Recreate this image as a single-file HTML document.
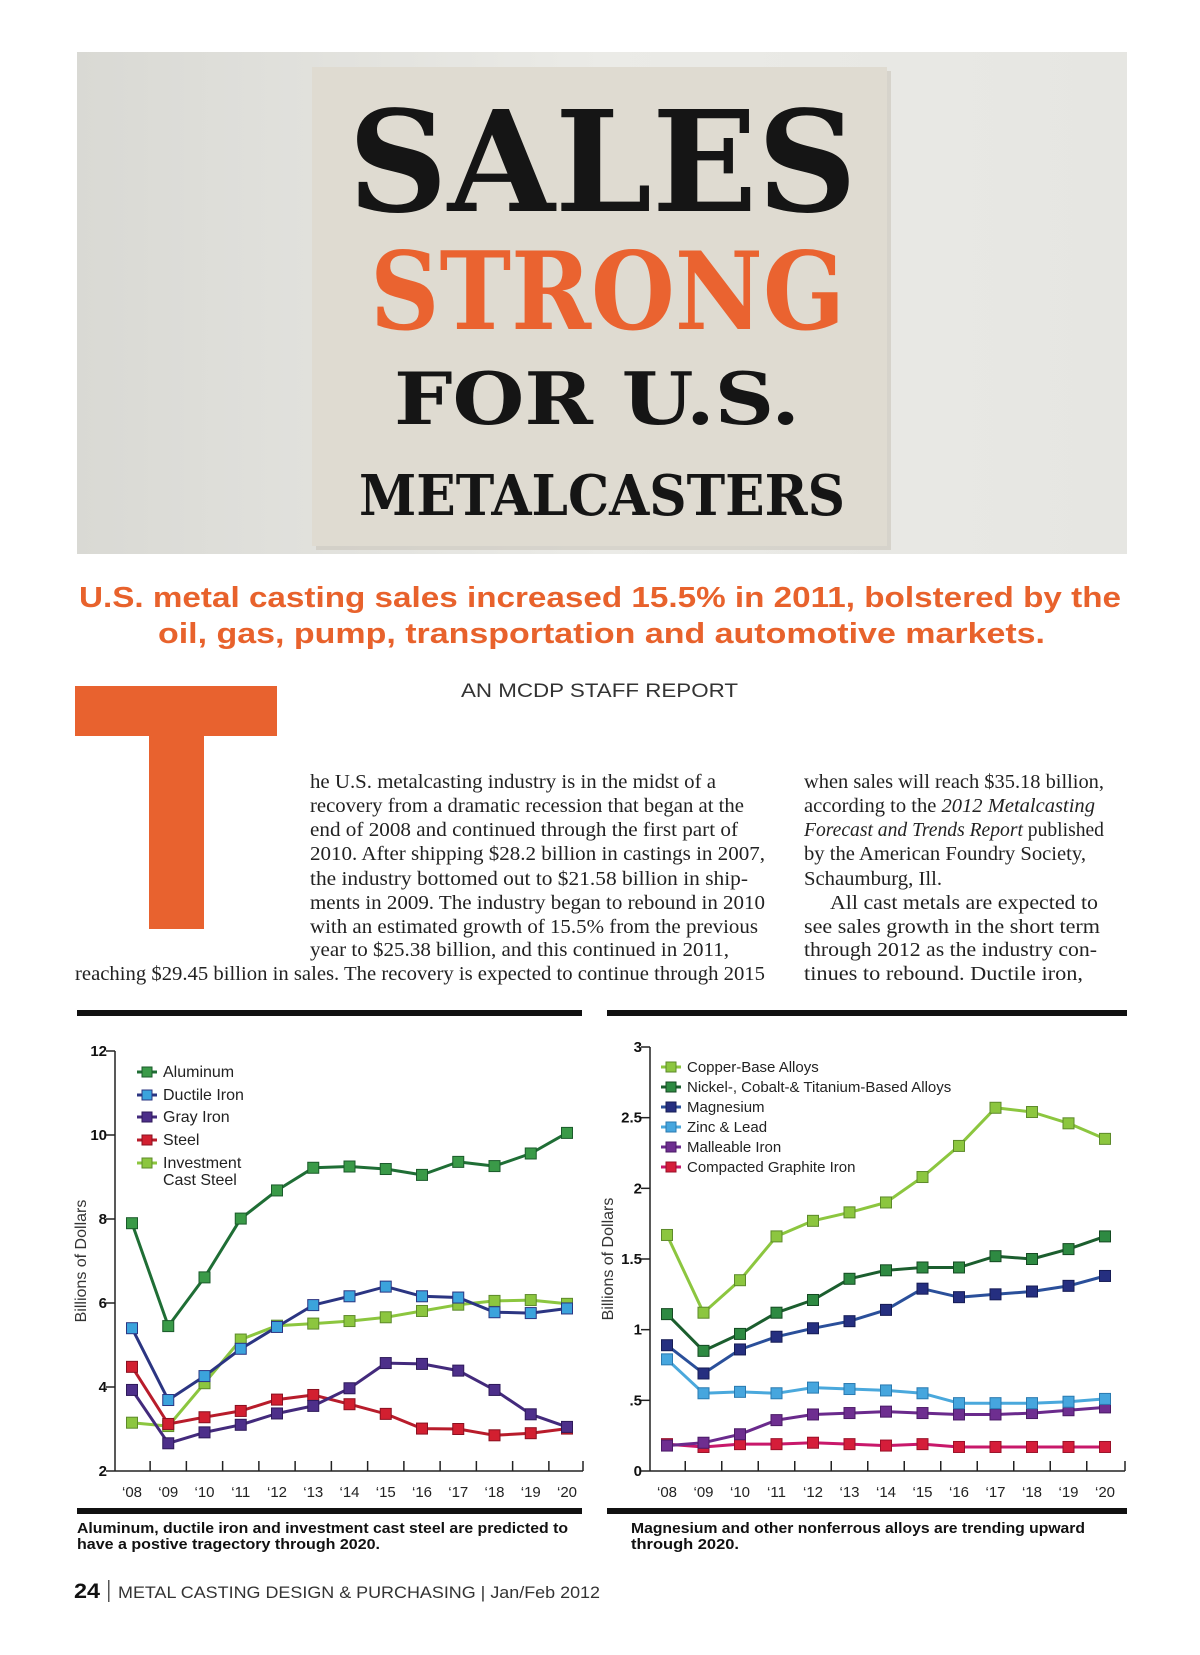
<!DOCTYPE html>
<html><head><meta charset="utf-8">
<style>
html,body{margin:0;padding:0;background:#fff;}
#page{position:relative;width:1200px;height:1655px;overflow:hidden;background:#fff;}
svg text{font-family:"Liberation Sans",sans-serif;}
svg .serif text{font-family:"Liberation Serif",serif;}
svg text.slab{font-family:"DejaVu Serif","Liberation Serif",serif;font-weight:bold;}
</style></head>
<body>
<div id="page">
<svg width="1200" height="1655" viewBox="0 0 1200 1655" xmlns="http://www.w3.org/2000/svg">
<defs>
<linearGradient id="wall" x1="0" y1="0" x2="1" y2="0">
<stop offset="0" stop-color="#d9d9d4"/><stop offset="0.5" stop-color="#ebebe7"/><stop offset="1" stop-color="#e6e6e2"/>
</linearGradient>
</defs>
<g>
<rect x="77" y="52" width="1050" height="502" fill="url(#wall)"/>
<rect x="316" y="71" width="575" height="479" fill="#c9c5bb" opacity="0.6"/>
<rect x="312" y="67" width="575" height="479" fill="#dfdbd1"/>
<text class="slab" x="348" y="211" font-size="140" textLength="509" lengthAdjust="spacingAndGlyphs" fill="#151515">SALES</text>
<text class="slab" x="370" y="329" font-size="108" textLength="475" lengthAdjust="spacingAndGlyphs" fill="#ea6330">STRONG</text>
<text class="slab" x="394" y="424" font-size="72" textLength="406" lengthAdjust="spacingAndGlyphs" fill="#151515">FOR U.S.</text>
<text class="slab" x="359" y="515" font-size="56" textLength="486" lengthAdjust="spacingAndGlyphs" fill="#151515">METALCASTERS</text>
</g>
<g fill="#e8622c" font-weight="bold" font-size="29">
<text x="79" y="607" textLength="1042" lengthAdjust="spacingAndGlyphs">U.S. metal casting sales increased 15.5% in 2011, bolstered by the</text>
<text x="158" y="643" textLength="887" lengthAdjust="spacingAndGlyphs">oil, gas, pump, transportation and automotive markets.</text>
</g>
<text x="461" y="697" font-size="19" textLength="277" lengthAdjust="spacingAndGlyphs" fill="#333">AN MCDP STAFF REPORT</text>
<g fill="#e8622f">
<rect x="75" y="686" width="202" height="50"/>
<rect x="149" y="735" width="55" height="194"/>
</g>
<g class="serif" font-size="20" fill="#222">
<text x="310" y="788" textLength="406" lengthAdjust="spacingAndGlyphs">he U.S. metalcasting industry is in the midst of a</text>
<text x="310" y="812" textLength="434" lengthAdjust="spacingAndGlyphs">recovery from a dramatic recession that began at the</text>
<text x="310" y="836" textLength="428" lengthAdjust="spacingAndGlyphs">end of 2008 and continued through the first part of</text>
<text x="310" y="860" textLength="455" lengthAdjust="spacingAndGlyphs">2010. After shipping $28.2 billion in castings in 2007,</text>
<text x="310" y="885" textLength="438" lengthAdjust="spacingAndGlyphs">the industry bottomed out to $21.58  billion in ship-</text>
<text x="310" y="909" textLength="455" lengthAdjust="spacingAndGlyphs">ments in 2009. The industry began to rebound in 2010</text>
<text x="310" y="933" textLength="448" lengthAdjust="spacingAndGlyphs">with an estimated growth of 15.5% from the previous</text>
<text x="310" y="956" textLength="419" lengthAdjust="spacingAndGlyphs">year to $25.38 billion, and this continued in 2011,</text>
<text x="75" y="980" textLength="690" lengthAdjust="spacingAndGlyphs">reaching $29.45 billion in sales. The recovery is expected to continue through 2015</text>
<text x="804" y="788" textLength="300" lengthAdjust="spacingAndGlyphs">when sales will reach $35.18 billion,</text>
<text x="804" y="812" textLength="291" lengthAdjust="spacingAndGlyphs">according to the <tspan font-style="italic">2012 Metalcasting</tspan></text>
<text x="804" y="836" textLength="300" lengthAdjust="spacingAndGlyphs"><tspan font-style="italic">Forecast and Trends Report</tspan> published</text>
<text x="804" y="860" textLength="282" lengthAdjust="spacingAndGlyphs">by the American Foundry Society,</text>
<text x="804" y="885" textLength="138" lengthAdjust="spacingAndGlyphs">Schaumburg, Ill.</text>
<text x="830" y="909" textLength="268" lengthAdjust="spacingAndGlyphs">All cast metals are expected to</text>
<text x="804" y="933" textLength="296" lengthAdjust="spacingAndGlyphs">see sales growth in the short term</text>
<text x="804" y="956" textLength="293" lengthAdjust="spacingAndGlyphs">through 2012 as the industry con-</text>
<text x="804" y="980" textLength="279" lengthAdjust="spacingAndGlyphs">tinues to rebound. Ductile iron,</text>
</g>
<rect x="77" y="1010" width="505" height="6" fill="#111"/>
<rect x="607" y="1010" width="520" height="6" fill="#111"/>
<rect x="77" y="1508" width="505" height="6" fill="#111"/>
<rect x="607" y="1508" width="520" height="6" fill="#111"/>
<g id="leftChart"></g>
<g id="rightChart"></g>
<g font-weight="bold" font-size="14.5" fill="#111">
<text x="77" y="1533" textLength="491" lengthAdjust="spacingAndGlyphs">Aluminum, ductile iron and investment cast steel are predicted to</text>
<text x="77" y="1549" textLength="303" lengthAdjust="spacingAndGlyphs">have a postive tragectory through 2020.</text>
<text x="631" y="1533" textLength="454" lengthAdjust="spacingAndGlyphs">Magnesium and other nonferrous alloys are trending upward</text>
<text x="631" y="1549" textLength="108" lengthAdjust="spacingAndGlyphs">through 2020.</text>
</g>
<g fill="#333">
<text x="74" y="1598" font-size="21" font-weight="bold" fill="#111" textLength="26" lengthAdjust="spacingAndGlyphs">24</text>
<rect x="108" y="1580" width="1.5" height="22" fill="#555"/>
<text x="118" y="1598" font-size="17" textLength="482" lengthAdjust="spacingAndGlyphs">METAL CASTING DESIGN &amp; PURCHASING | Jan/Feb 2012</text>
</g>
</svg>
</div>
<script>
const NS='http://www.w3.org/2000/svg';
const years=["‘08","‘09","‘10","‘11","‘12","‘13","‘14","‘15","‘16","‘17","‘18","‘19","‘20"];
const aluminum=[7.90,5.45,6.61,8.01,8.68,9.22,9.25,9.19,9.05,9.36,9.26,9.56,10.05];
const ductileIron=[5.40,3.69,4.26,4.91,5.43,5.95,6.16,6.39,6.16,6.13,5.78,5.76,5.87];
const grayIron=[3.93,2.66,2.92,3.10,3.37,3.55,3.97,4.57,4.55,4.39,3.93,3.35,3.05];
const steel=[4.48,3.12,3.28,3.43,3.70,3.81,3.59,3.36,3.01,3.00,2.85,2.90,3.01];
const investmentCastSteel=[3.15,3.07,4.09,5.13,5.46,5.51,5.57,5.66,5.81,5.96,6.05,6.07,5.98];
const leftTicks=[2,4,6,8,10,12];
const copperBase=[1.67,1.12,1.35,1.66,1.77,1.83,1.90,2.08,2.30,2.57,2.54,2.46,2.35];
const nickelCobaltTi=[1.11,0.85,0.97,1.12,1.21,1.36,1.42,1.44,1.44,1.52,1.50,1.57,1.66];
const magnesium=[0.89,0.69,0.86,0.95,1.01,1.06,1.14,1.29,1.23,1.25,1.27,1.31,1.38];
const zincLead=[0.79,0.55,0.56,0.55,0.59,0.58,0.57,0.55,0.48,0.48,0.48,0.49,0.51];
const malleableIron=[0.18,0.20,0.26,0.36,0.40,0.41,0.42,0.41,0.40,0.40,0.41,0.43,0.45];
const compactedGraphite=[0.19,0.17,0.19,0.19,0.20,0.19,0.18,0.19,0.17,0.17,0.17,0.17,0.17];
const rightTicks=[0,0.5,1,1.5,2,2.5,3];
const rightTickLabels=["0",".5","1","1.5","2","2.5","3"];

function mk(tag,attrs,parent){const e=document.createElementNS(NS,tag);for(const k in attrs)e.setAttribute(k,attrs[k]);parent.appendChild(e);return e;}

function drawChart(g,cfg){
  const xs=i=>cfg.x0+i*(cfg.x1-cfg.x0)/(years.length-1);
  const ys=v=>cfg.yBot-(v-cfg.vMin)*(cfg.yBot-cfg.yTop)/(cfg.vMax-cfg.vMin);
  let a=mk('line',{x1:cfg.axL,y1:ys(cfg.vMax),x2:cfg.axL,y2:cfg.yBot,stroke:'#222','stroke-width':1.5},g);
  
  
  a=mk('line',{x1:cfg.axL,y1:cfg.yBot,x2:cfg.axR,y2:cfg.yBot,stroke:'#222','stroke-width':1.5},g);
  
  
  cfg.ticks.forEach((t,k)=>{
    const y=ys(t);
    const tl=mk('line',{x1:cfg.axL-9,y1:y,x2:cfg.axL,y2:y,stroke:'#222','stroke-width':1.5},g);
    
    
    const tx=mk('text',{x:cfg.axL-8,y:y+5,'text-anchor':'end','font-size':15,'font-weight':'bold',fill:'#111'},g);
    tx.textContent=cfg.tickLabels[k];
    
    
  });
  for(let i=0;i<years.length;i++){
    const xm=i<years.length-1?(xs(i)+xs(i+1))/2:cfg.axR;
    const tk=mk('line',{x1:xm,y1:cfg.yBot,x2:xm,y2:cfg.yBot-10,stroke:'#222','stroke-width':1.5},g);
    
    
    const lb=mk('text',{x:xs(i),y:cfg.yBot+26,'text-anchor':'middle','font-size':15,fill:'#222'},g);
    lb.textContent=years[i];
    
    
  }
  const tt=mk('text',{x:0,y:0,'text-anchor':'middle','font-size':16,fill:'#333',transform:`translate(${cfg.titleX},${(ys(cfg.vMax)+cfg.yBot)/2}) rotate(-90)`},g);
  tt.textContent='Billions of Dollars';
  
  
  cfg.series.slice().reverse().forEach(s=>{
    const sg=mk('g',{},g);
    
    
    const pts=s.data.map((v,i)=>xs(i).toFixed(1)+','+ys(v).toFixed(1)).join(' ');
    const pl=mk('polyline',{points:pts,fill:'none',stroke:s.line,'stroke-width':3,'stroke-linejoin':'round'},sg);
    
    
    s.data.forEach((v,i)=>{
      const r=mk('rect',{x:xs(i)-5.5,y:ys(v)-5.5,width:11,height:11,fill:s.marker,stroke:s.edge,'stroke-width':1},sg);
      
      
    });
  });
  cfg.series.forEach((s,k)=>{
    const y=cfg.legY[k];
    const lg=mk('g',{},g);
    
    
    mk('line',{x1:cfg.legX,y1:y,x2:cfg.legX+20,y2:y,stroke:s.line,'stroke-width':3},lg);
    mk('rect',{x:cfg.legX+5,y:y-5,width:10,height:10,fill:s.marker,stroke:s.edge,'stroke-width':1},lg);
    s.label.forEach((ln,j)=>{
      const t=mk('text',{x:cfg.legX+26,y:y+5+j*17,'font-size':cfg.legFont,fill:'#222'},lg);
      t.textContent=ln;
    });
  });
}

drawChart(document.getElementById('leftChart'),{
  x0:132,x1:567,axL:115,axR:583,yTop:1051,yBot:1471,vMin:2,vMax:12,
  ticks:leftTicks,tickLabels:leftTicks.map(String),titleX:86,
  legX:137,legY:[1072,1095,1117,1140,1163],legFont:16,
  series:[
    {name:'aluminum',label:['Aluminum'],data:aluminum,line:'#1f6e35',marker:'#3a9a48',edge:'#1a5a2a'},
    {name:'ductile-iron',label:['Ductile Iron'],data:ductileIron,line:'#2b3582',marker:'#3ba3dc',edge:'#2b3582'},
    {name:'gray-iron',label:['Gray Iron'],data:grayIron,line:'#432a7c',marker:'#4d2f8a',edge:'#2e1a5a'},
    {name:'steel',label:['Steel'],data:steel,line:'#b81c2b',marker:'#d21f30',edge:'#8a1020'},
    {name:'investment-cast-steel',label:['Investment','Cast Steel'],data:investmentCastSteel,line:'#8cc63f',marker:'#8cc63f',edge:'#5d8a2a'}
  ]
});
drawChart(document.getElementById('rightChart'),{
  x0:667,x1:1105,axL:650,axR:1125,yTop:1047,yBot:1471,vMin:0,vMax:3,
  ticks:rightTicks,tickLabels:rightTickLabels,titleX:613,
  legX:661,legY:[1067,1087,1107,1127,1147,1167],legFont:15,
  series:[
    {name:'copper-base-alloys',label:['Copper-Base Alloys'],data:copperBase,line:'#8cc63f',marker:'#8cc63f',edge:'#5d8a2a'},
    {name:'nickel-cobalt-titanium-alloys',label:['Nickel-, Cobalt-& Titanium-Based Alloys'],data:nickelCobaltTi,line:'#1b5e2e',marker:'#2e8a42',edge:'#144a22'},
    {name:'magnesium',label:['Magnesium'],data:magnesium,line:'#2a4f9a',marker:'#252f80',edge:'#161c55'},
    {name:'zinc-lead',label:['Zinc & Lead'],data:zincLead,line:'#4aa8dc',marker:'#46a6de',edge:'#2a7ab0'},
    {name:'malleable-iron',label:['Malleable Iron'],data:malleableIron,line:'#6a2a8c',marker:'#6e2e90',edge:'#4a1a66'},
    {name:'compacted-graphite-iron',label:['Compacted Graphite Iron'],data:compactedGraphite,line:'#c8186a',marker:'#d51d3a',edge:'#9a1028'}
  ]
});
</script>
</body></html>
